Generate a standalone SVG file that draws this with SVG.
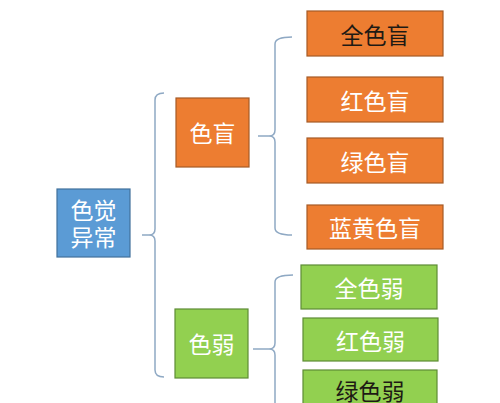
<svg xmlns="http://www.w3.org/2000/svg" width="500" height="403" viewBox="0 0 500 403">
<style>
  .t { font-family: "Noto Sans CJK SC", "Noto Sans", sans-serif; font-size: 23px; text-anchor: middle; dominant-baseline: central; fill: #ffffff; }
  .dark { fill: #1e1a14; }
  .org { fill: #ED7D31; stroke: #A65A26; stroke-width: 1.2; }
  .grn { fill: #92D050; stroke: #5E8C35; stroke-width: 1.2; }
  .blu { fill: #5B9BD5; stroke: #41719C; stroke-width: 1.2; }
  .br { fill: none; stroke: #8FA9C4; stroke-width: 1.5; }
</style>
<rect width="500" height="403" fill="#ffffff"/>
<g id="connectors">
  <path class="br" d="M164,93 Q155,93 155,100 L155,229 Q155,235 149,235 L142,235 M149,235 Q155,235 155,241 L155,370 Q155,377 164,377"/>
  <path class="br" d="M292,37 Q275,37 275,44 L275,130 Q275,136 269,136 L258,136 M269,136 Q275,136 275,142 L275,228 Q275,235 292,235"/>
  <path class="br" d="M293,275 Q275,275 275,282 L275,343 Q275,349 269,349 L253,349 M269,349 Q275,349 275,355 L275,420"/>
</g>
<g id="n-root">
  <rect class="blu" x="57" y="189" width="73" height="68"/>
  <text class="t" x="93.5" y="209">色觉</text>
  <text class="t" x="93.5" y="236">异常</text>
</g>
<g id="n-semang">
  <rect class="org" x="176" y="98" width="73" height="69"/>
  <text class="t" x="212.5" y="132">色盲</text>
</g>
<g id="n-seruo">
  <rect class="grn" x="175" y="309" width="73" height="69"/>
  <text class="t" x="211.5" y="343">色弱</text>
</g>
<g id="n-quansemang">
  <rect class="org" x="307" y="11" width="136" height="45"/>
  <text class="t dark" x="375" y="33.5">全色盲</text>
</g>
<g id="n-hongsemang">
  <rect class="org" x="307" y="77" width="136" height="45"/>
  <text class="t" x="375" y="99.5">红色盲</text>
</g>
<g id="n-lvsemang">
  <rect class="org" x="307" y="138" width="136" height="45"/>
  <text class="t" x="375" y="160.5">绿色盲</text>
</g>
<g id="n-lanhuangsemang">
  <rect class="org" x="307" y="205" width="136" height="44"/>
  <text class="t" x="375" y="227">蓝黄色盲</text>
</g>
<g id="n-quanseruo">
  <rect class="grn" x="301" y="265" width="136" height="44"/>
  <text class="t" x="369" y="287">全色弱</text>
</g>
<g id="n-hongseruo">
  <rect class="grn" x="303" y="318" width="135" height="43"/>
  <text class="t" x="370.5" y="339.5">红色弱</text>
</g>
<g id="n-lvseruo">
  <rect class="grn" x="303" y="370" width="134" height="44"/>
  <text class="t dark" x="370" y="390">绿色弱</text>
</g>
</svg>
